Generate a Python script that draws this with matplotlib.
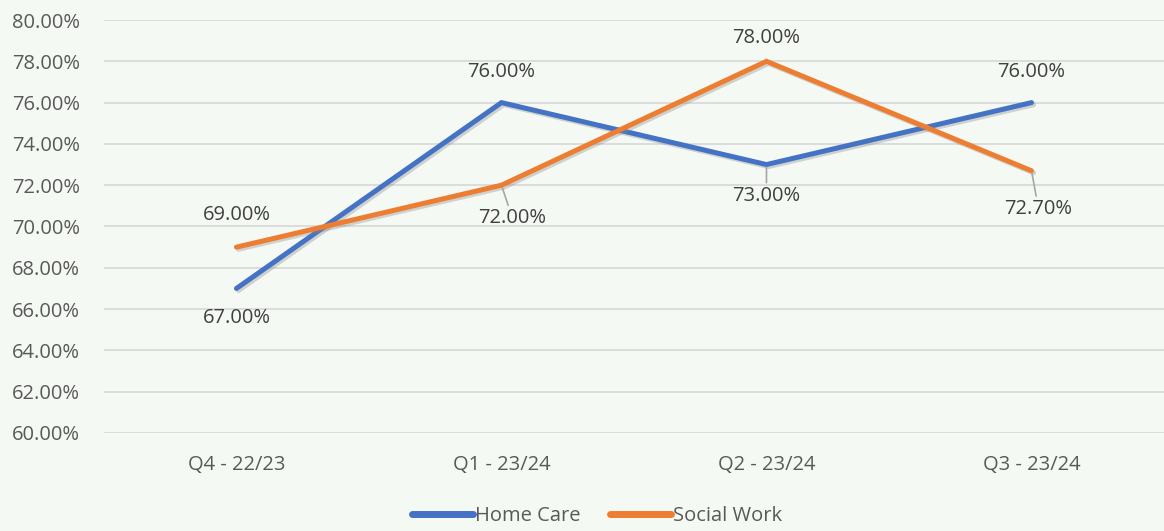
import matplotlib
matplotlib.use('Agg')
import matplotlib.pyplot as plt
import matplotlib.patheffects as pe
from matplotlib.ticker import FuncFormatter

# Data
quarters = ['Q4 - 22/23', 'Q1 - 23/24', 'Q2 - 23/24', 'Q3 - 23/24']
home_care = [67.0, 76.0, 73.0, 76.0]
social_work = [69.0, 72.0, 78.0, 72.7]

# label offsets in pixels (dx, dy), and whether to draw a leader line
home_offsets = [(0, -30), (0, 31), (0, -31), (0, 31)]
social_offsets = [(0, 32), (11, -33), (0, 23), (7, -38)]
home_leader = [False, False, True, False]
social_leader = [False, True, False, True]

bg = '#f5f9f4'
text_col = '#595959'
blue = '#4472c4'
orange = '#ed7d31'

plt.rcParams['font.family'] = ['Open Sans', 'DejaVu Sans']
fs = 14.5

fig = plt.figure(figsize=(11.64, 5.31), dpi=100, facecolor=bg)
ax = fig.add_axes([0.0893, 0.1846, 0.9107, 0.7777], facecolor=bg)

x = list(range(len(quarters)))
shadow = [pe.SimpleLineShadow(offset=(1.5, -1.5), shadow_color='#888888', alpha=0.35), pe.Normal()]
ax.plot(x, home_care, color=blue, lw=3.6, solid_capstyle='round', solid_joinstyle='miter',
        label='Home Care', path_effects=shadow, zorder=3)
ax.plot(x, social_work, color=orange, lw=3.6, solid_capstyle='round', solid_joinstyle='miter',
        label='Social Work', path_effects=shadow, zorder=4)


def add_labels(vals, offsets, leaders):
    for i, v in enumerate(vals):
        dx, dy = offsets[i]
        props = None
        if leaders[i]:
            props = dict(arrowstyle='-', color='#a6a6a6', lw=1.2, shrinkA=0, shrinkB=2)
        ax.annotate('{:.2f}%'.format(v), (i, v), xytext=(dx * 0.72, dy * 0.72),
                    textcoords='offset points', ha='center', va='center',
                    fontsize=fs, color='#404040', arrowprops=props, zorder=5)


add_labels(home_care, home_offsets, home_leader)
add_labels(social_work, social_offsets, social_leader)

ax.set_xlim(-0.5, 3.5)
ax.set_ylim(60, 80)
ax.set_yticks(range(60, 81, 2))
ax.yaxis.set_major_formatter(FuncFormatter(lambda v, p: '{:.2f}%'.format(v)))
ax.set_xticks(x)
ax.set_xticklabels(quarters)
ax.tick_params(axis='both', length=0, labelsize=fs, labelcolor=text_col)
ax.tick_params(axis='y', pad=17)
ax.tick_params(axis='x', pad=16)
ax.grid(axis='y', color='#d9d9d9', lw=1.3)
ax.set_axisbelow(True)
for s in ax.spines.values():
    s.set_visible(False)

leg = fig.legend(loc='lower center', bbox_to_anchor=(0.513, -0.025), ncol=2, frameon=False,
                 fontsize=fs, labelcolor=text_col, handlelength=3.0, handletextpad=0.1,
                 columnspacing=1.5)
for line in leg.get_lines():
    line.set_linewidth(5)
    line.set_path_effects([])

fig.savefig('out.png', dpi=100, facecolor=bg)
